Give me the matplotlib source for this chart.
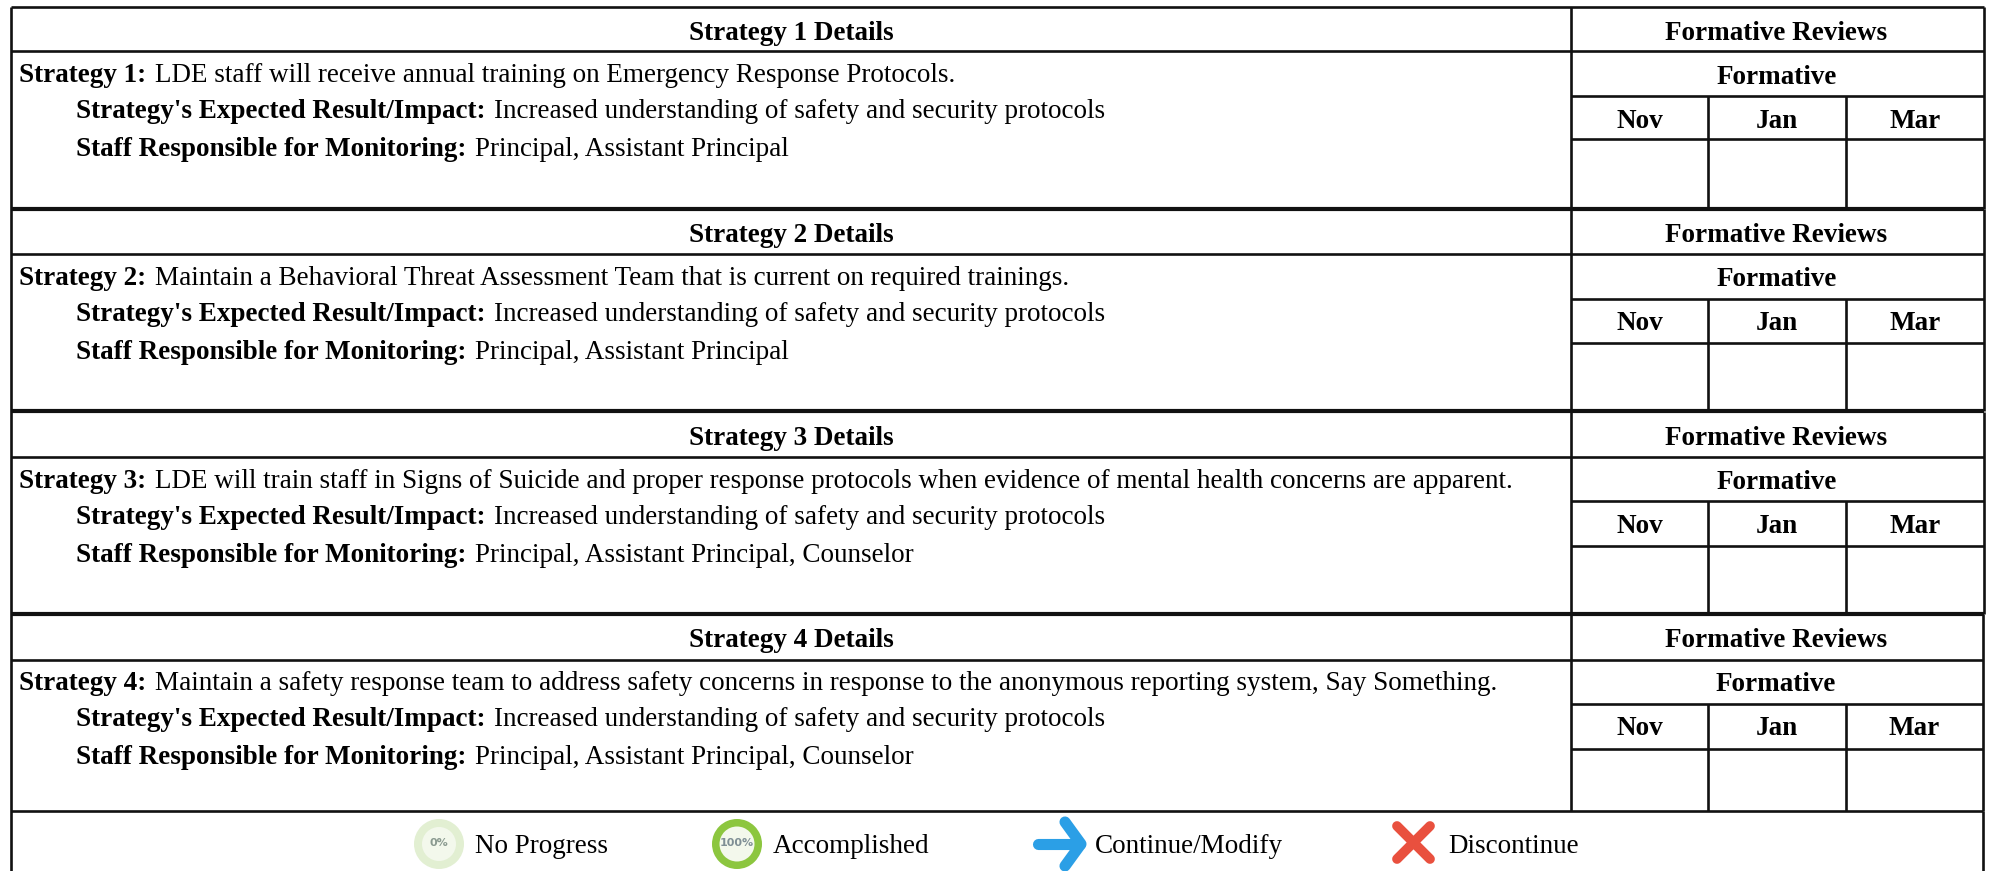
import matplotlib
matplotlib.use('Agg')
import matplotlib.pyplot as plt
from matplotlib.patches import Circle, Wedge

plt.rcParams['font.family'] = ['Liberation Serif', 'DejaVu Serif']

strategy_text = [
    "LDE staff will receive annual training on Emergency Response Protocols.",
    "Maintain a Behavioral Threat Assessment Team that is current on required trainings.",
    "LDE will train staff in Signs of Suicide and proper response protocols when evidence of mental health concerns are apparent.",
    "Maintain a safety response team to address safety concerns in response to the anonymous reporting system, Say Something.",
]
impact = "Increased understanding of safety and security protocols"
staff = [
    "Principal, Assistant Principal",
    "Principal, Assistant Principal",
    "Principal, Assistant Principal, Counselor",
    "Principal, Assistant Principal, Counselor",
]
months = ["Nov", "Jan", "Mar"]
legend_labels = ["No Progress", "Accomplished", "Continue/Modify", "Discontinue"]
legend_x = [475, 773, 1095, 1448]

# pixel positions of the table rules
block_tops = [7, 209, 412, 614]
header_y = [51, 254, 457, 660]
form_y = [96, 299, 501, 704]
month_y = [139, 343, 546, 749]
block_bottoms = [209, 411, 614, 811]
right_x = [1984, 1984, 1984, 1983]
x_left = 11
x_split = 1571
x_nov = 1708
x_jan = 1846
FS = 19.5

fig = plt.figure(figsize=(19.9, 8.71), dpi=100)
ax = fig.add_axes([0, 0, 1, 1])
ax.set_xlim(0, 1990)
ax.set_ylim(871, 0)
ax.axis('off')
renderer = fig.canvas.get_renderer()


def hline(y, x0, x1, lw=1.9):
    ax.plot([x0, x1], [y, y], color='#111111', lw=lw, solid_capstyle='butt')


def vline(x, y0, y1, lw=1.9):
    ax.plot([x, x], [y0, y1], color='#111111', lw=lw, solid_capstyle='butt')


def label(x, y, head, rest):
    t = ax.text(x, y, head, fontsize=FS, fontweight='bold', va='center', ha='left')
    bb = t.get_window_extent(renderer)
    ax.text(bb.x1 + 9, y, rest, fontsize=FS, va='center', ha='left')


for i in range(4):
    top = block_tops[i]
    bot = block_bottoms[i]
    xr = right_x[i]

    hline(header_y[i], x_left, xr)
    hline(form_y[i], x_split, xr)
    hline(month_y[i], x_split, xr)
    hline(bot, x_left, xr, lw=3.0 if i < 3 else 1.9)
    vline(x_split, top, bot)
    vline(x_nov, form_y[i], bot)
    vline(x_jan, form_y[i], bot)
    vline(xr, top, bot)

    ax.text((x_left + x_split) / 2, top + 26, f"Strategy {i + 1} Details",
            fontsize=FS, fontweight='bold', ha='center', va='center')
    ax.text((x_split + xr) / 2 - 1, top + 26, "Formative Reviews",
            fontsize=FS, fontweight='bold', ha='center', va='center')
    ax.text((x_split + xr) / 2 - 1, top + 70, "Formative",
            fontsize=FS, fontweight='bold', ha='center', va='center')
    for m, (a, b) in zip(months, [(x_split, x_nov), (x_nov, x_jan), (x_jan, xr)]):
        ax.text((a + b) / 2, top + 114, m, fontsize=FS, fontweight='bold', ha='center', va='center')

    label(19, top + 69, f"Strategy {i + 1}:", strategy_text[i])
    label(76, top + 105, "Strategy's Expected Result/Impact:", impact)
    label(76, top + 143, "Staff Responsible for Monitoring:", staff[i])

# outer frame and bottom row
hline(7, x_left, right_x[0])
vline(x_left, 7, 871)
vline(right_x[3], 811, 871)

# legend icons
ax.add_patch(Circle((439, 844), 25, fc='#e2efd2', ec='none'))
ax.add_patch(Circle((439, 844), 17, fc='#f3f8ec', ec='none'))
ax.text(439, 843, "0%", fontsize=8, color='#8a9a90', ha='center', va='center', family='DejaVu Sans', fontweight='bold')
ax.add_patch(Circle((737, 844), 18, fc='#f3f8ec', ec='none'))
ax.add_patch(Wedge((737, 844), 25, 0, 360, width=7.5, fc='#8cc63f', ec='none'))
ax.text(737, 843, "100%", fontsize=8, color='#7f8f95', ha='center', va='center', family='DejaVu Sans', fontweight='bold')

blue = '#2b9fe6'
ax.plot([1038, 1080], [844, 844], color=blue, lw=8, solid_capstyle='round')
ax.plot([1065, 1081, 1065], [822, 844, 866], color=blue, lw=8, solid_capstyle='round', solid_joinstyle='round')
red = '#e9503e'
ax.plot([1397, 1430], [826, 859], color=red, lw=7, solid_capstyle='round')
ax.plot([1397, 1430], [859, 826], color=red, lw=7, solid_capstyle='round')

for x, s in zip(legend_x, legend_labels):
    ax.text(x, 846, s, fontsize=FS, ha='left', va='center')

fig.savefig('out.png', dpi=100)
